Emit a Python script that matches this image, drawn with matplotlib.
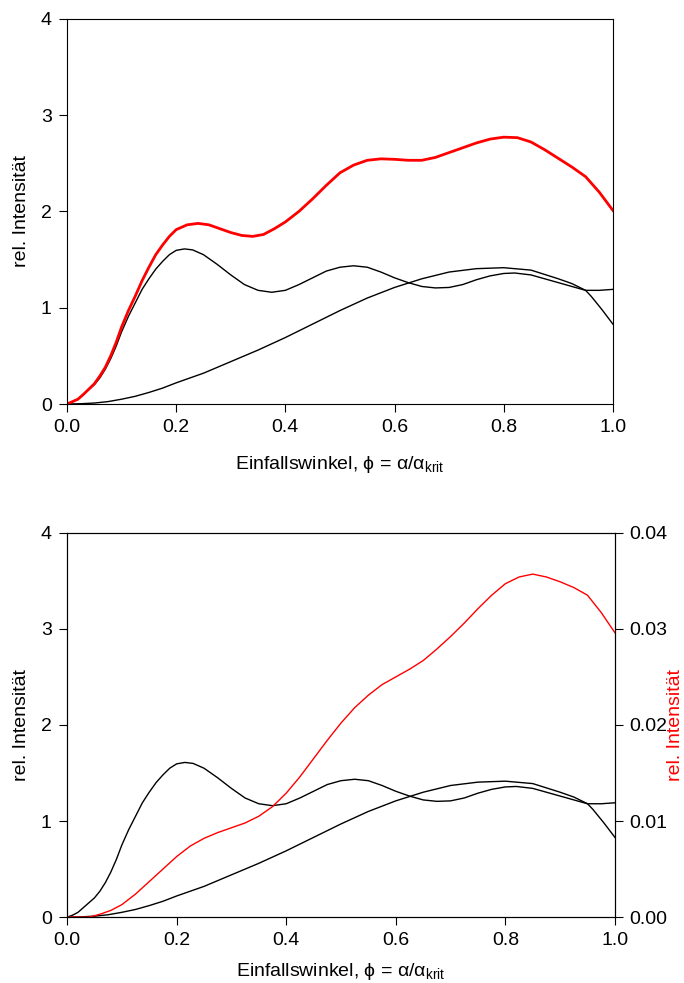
import matplotlib
matplotlib.use("Agg")
import matplotlib.pyplot as plt

plt.rcParams['font.family'] = ['Liberation Sans', 'DejaVu Sans']
plt.rcParams['mathtext.fontset'] = 'custom'
plt.rcParams['mathtext.rm'] = 'Liberation Sans'

# oscillating curve (black)
phi_a = [0.0, 0.01, 0.02, 0.03, 0.04, 0.05, 0.06, 0.07, 0.08, 0.09, 0.1, 0.1125,
         0.125, 0.1375, 0.15, 0.1625, 0.175, 0.1875, 0.2, 0.215, 0.23, 0.25,
         0.275, 0.3, 0.325, 0.35, 0.375, 0.4, 0.425, 0.45, 0.475, 0.5, 0.525, 0.55,
         0.575, 0.6, 0.625, 0.65, 0.675, 0.7, 0.725, 0.75, 0.775, 0.8, 0.82, 0.85,
         0.875, 0.9, 0.925, 0.95, 0.975, 1.0]
int_a = [0.0, 0.02, 0.05, 0.1, 0.15, 0.2, 0.27, 0.36, 0.47, 0.6, 0.75, 0.91,
         1.05, 1.19, 1.3, 1.4, 1.48, 1.55, 1.595, 1.61, 1.6, 1.55,
         1.45, 1.34, 1.24, 1.18, 1.16, 1.18, 1.24, 1.31, 1.38, 1.42, 1.435, 1.42,
         1.37, 1.31, 1.26, 1.22, 1.205, 1.21, 1.24, 1.29, 1.33, 1.355, 1.36, 1.34,
         1.30, 1.26, 1.22, 1.18, 1.18, 1.19]

# smooth rising curve (black)
phi_b = [0.0, 0.025, 0.05, 0.075, 0.1, 0.125, 0.15, 0.175, 0.2, 0.25, 0.3, 0.35,
         0.4, 0.45, 0.5, 0.55, 0.6, 0.65, 0.7, 0.75, 0.8, 0.85, 0.9, 0.925, 0.95,
         0.96, 0.98, 1.0]
int_b = [0.0, 0.003, 0.01, 0.025, 0.05, 0.08, 0.12, 0.165, 0.22, 0.32, 0.44, 0.56,
         0.69, 0.83, 0.97, 1.1, 1.21, 1.3, 1.37, 1.405, 1.415, 1.39, 1.3, 1.25, 1.18,
         1.12, 0.98, 0.83]

# total (red, upper panel)
phi_sum = [0.0, 0.01, 0.02, 0.03, 0.04, 0.05, 0.06, 0.07, 0.08, 0.09, 0.1, 0.1125,
           0.125, 0.1375, 0.15, 0.1625, 0.175, 0.1875, 0.2, 0.22, 0.24, 0.26,
           0.28, 0.3, 0.32, 0.34, 0.36, 0.38, 0.4, 0.425, 0.45, 0.475, 0.5, 0.525,
           0.55, 0.575, 0.6, 0.625, 0.65, 0.675, 0.7, 0.725, 0.75, 0.775, 0.8, 0.825,
           0.85, 0.875, 0.9, 0.925, 0.95, 0.975, 1.0]
int_sum = [0.0, 0.025, 0.05, 0.1, 0.155, 0.21, 0.29, 0.38, 0.5, 0.64, 0.8, 0.97,
           1.12, 1.28, 1.42, 1.55, 1.65, 1.74, 1.81, 1.86, 1.875, 1.86,
           1.82, 1.78, 1.75, 1.74, 1.76, 1.82, 1.89, 2.0, 2.13, 2.27, 2.4, 2.48,
           2.53, 2.545, 2.54, 2.53, 2.53, 2.56, 2.61, 2.66, 2.71, 2.75, 2.77, 2.765,
           2.72, 2.64, 2.55, 2.46, 2.36, 2.2, 2.01]

# red curve lower panel (right axis)
phi_r = [0.0, 0.04, 0.06, 0.08, 0.1, 0.125, 0.15, 0.175, 0.2, 0.225, 0.25, 0.275,
         0.3, 0.325, 0.35, 0.375, 0.4, 0.425, 0.45, 0.475, 0.5, 0.525, 0.55, 0.575,
         0.6, 0.625, 0.65, 0.675, 0.7, 0.725, 0.75, 0.775, 0.8, 0.825, 0.85, 0.875,
         0.9, 0.925, 0.95, 0.975, 1.0]
int_r = [0.0, 0.0, 0.0003, 0.0007, 0.0013, 0.0024, 0.0037, 0.005, 0.0063, 0.0074,
         0.0082, 0.0088, 0.0093, 0.0098, 0.0105, 0.0115, 0.0129, 0.0146, 0.0165,
         0.0184, 0.0202, 0.0218, 0.0231, 0.0242, 0.025, 0.0258, 0.0267, 0.0279,
         0.0292, 0.0306, 0.0321, 0.0335, 0.0347, 0.0354, 0.0357, 0.0354, 0.0349,
         0.0343, 0.0335, 0.0317, 0.0296]

xticks = [0.0, 0.2, 0.4, 0.6, 0.8, 1.0]
yticks = [0, 1, 2, 3, 4]
yticks_r = [0.0, 0.01, 0.02, 0.03, 0.04]

xlabel = 'Einfallswinkel, \u03d5 = \u03b1/\u03b1$_{\\mathregular{krit}}$'
ylabel = 'rel. Intensit\u00e4t'
fs = 14

fig = plt.figure(figsize=(6.84, 9.83), dpi=100)
ax1 = fig.add_axes([0.098, 0.589, 0.798, 0.392])
ax2 = fig.add_axes([0.098, 0.067, 0.801, 0.391])


def style(ax):
    ax.set_xlim(0, 1)
    ax.set_ylim(0, 4)
    ax.set_xticks(xticks)
    ax.set_xticklabels(['%.1f' % t for t in xticks])
    ax.set_yticks(yticks)
    ax.tick_params(direction='out', length=6, width=0.8, labelsize=fs, pad=5)
    for s in ax.spines.values():
        s.set_linewidth(0.8)
    ax.set_ylabel(ylabel, fontsize=fs, labelpad=8)


# upper panel
ax1.plot(phi_a, int_a, color='black', lw=1.0)
ax1.plot(phi_b, int_b, color='black', lw=1.0)
ax1.plot(phi_sum, int_sum, color='red', lw=2.0)
style(ax1)
ax1.set_xlabel(xlabel, fontsize=fs, labelpad=13)

# lower panel
ax2.plot(phi_a, int_a, color='black', lw=1.0)
ax2.plot(phi_b, int_b, color='black', lw=1.0)
style(ax2)
ax2.set_xlabel(xlabel, fontsize=fs, labelpad=8)
axr = ax2.twinx()
axr.plot(phi_r, int_r, color='red', lw=1.0)
axr.set_ylim(0, 0.04)
axr.set_yticks(yticks_r)
axr.set_yticklabels(['%.2f' % t for t in yticks_r])
axr.tick_params(direction='out', length=6, width=0.8, labelsize=fs, pad=4)
axr.set_ylabel(ylabel, fontsize=fs, color='red', rotation=90, labelpad=0)

fig.savefig('out.png', dpi=100)
